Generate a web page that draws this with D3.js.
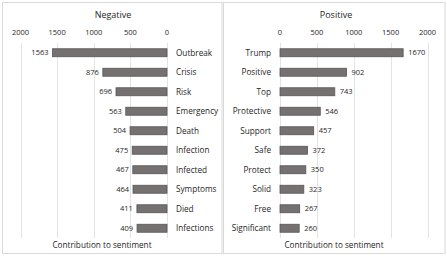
<!DOCTYPE html>
<html><head><meta charset="utf-8">
<script src="https://cdn.jsdelivr.net/npm/d3@7"></script>
<style>body{margin:0;background:#fff}svg{display:block}</style>
</head><body>
<script>
const negWords = ["Outbreak","Crisis","Risk","Emergency","Death","Infection","Infected","Symptoms","Died","Infections"];
const negValues = [1563,876,696,563,504,475,467,464,411,409];
const posWords = ["Trump","Positive","Top","Protective","Support","Safe","Protect","Solid","Free","Significant"];
const posValues = [1670,902,743,546,457,372,350,323,267,260];
const ticks = [0,500,1000,1500,2000];

const W=447,H=256;
const svg=d3.select("body").append("svg").attr("width",W).attr("height",H);
const font="'Open Sans', sans-serif";
const txt="#262626";
const barFill="#767171", barStroke="#595555";

function panel(cfg){
  const g=svg.append("g");
  g.append("rect").attr("x",cfg.bx).attr("y",2.5).attr("width",cfg.bw).attr("height",251)
    .attr("fill","#fff").attr("stroke","#d9d9d9").attr("stroke-width",1);
  const x=d3.scaleLinear().domain([0,2000]).range(cfg.xr);
  const y=d3.scaleBand().domain(cfg.words).range([43,238]).paddingInner(0.59).paddingOuter(0.295);
  g.selectAll(".grid").data(ticks).join("line")
    .attr("x1",d=>Math.round(x(d))+0.5).attr("x2",d=>Math.round(x(d))+0.5)
    .attr("y1",43).attr("y2",238).attr("stroke","#e3e3e3").attr("stroke-width",1);
  g.selectAll(".tick").data(ticks).join("text")
    .attr("x",d=>x(d)).attr("y",35).attr("text-anchor","middle")
    .attr("font-family",font).attr("font-size",7.5).attr("fill",txt).text(d=>d);
  g.selectAll(".bar").data(cfg.values).join("rect")
    .attr("x",d=>Math.min(x(0),x(d))).attr("width",d=>Math.abs(x(d)-x(0)))
    .attr("y",(d,i)=>y(cfg.words[i])).attr("height",y.bandwidth())
    .attr("fill",barFill).attr("stroke",barStroke).attr("stroke-width",0.8);
  g.selectAll(".val").data(cfg.values).join("text")
    .attr("x",d=>x(d)+cfg.valOff).attr("y",(d,i)=>y(cfg.words[i])+y.bandwidth()/2)
    .attr("dy","0.35em").attr("text-anchor",cfg.valAnchor)
    .attr("font-family",font).attr("font-size",7.5).attr("fill",txt).text(d=>d);
  g.selectAll(".cat").data(cfg.words).join("text")
    .attr("x",cfg.catX).attr("y",d=>y(d)+y.bandwidth()/2)
    .attr("dy","0.35em").attr("text-anchor",cfg.catAnchor)
    .attr("font-family",font).attr("font-size",8.2).attr("fill",txt).text(d=>d);
  g.append("text").attr("x",cfg.titleX).attr("y",18).attr("text-anchor","middle")
    .attr("font-family",font).attr("font-size",9).attr("fill",txt).text(cfg.title);
  g.append("text").attr("x",cfg.axX).attr("y",248).attr("text-anchor","middle")
    .attr("font-family",font).attr("font-size",8.2).attr("fill",txt).text("Contribution to sentiment");
}

panel({bx:2.5,bw:219.5,xr:[167,20.5],words:negWords,values:negValues,valOff:-4,valAnchor:"end",
  catX:176,catAnchor:"start",title:"Negative",titleX:113,axX:102});
panel({bx:223.5,bw:221.5,xr:[280,427.5],words:posWords,values:posValues,valOff:5,valAnchor:"start",
  catX:271,catAnchor:"end",title:"Positive",titleX:336,axX:334});
</script>
</body></html>
